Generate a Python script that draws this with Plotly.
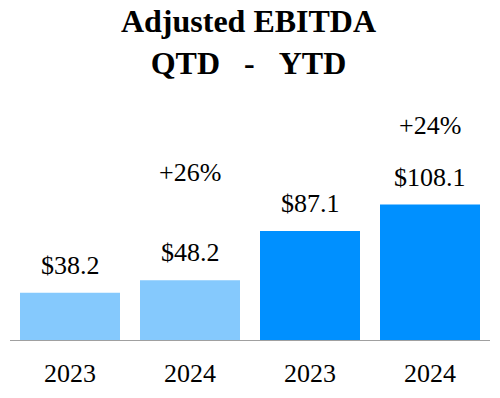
import plotly.graph_objects as go

periods = ["QTD", "QTD", "YTD", "YTD"]
years = ["2023", "2024", "2023", "2024"]
values = [38.2, 48.2, 87.1, 108.1]
value_labels = ["$38.2", "$48.2", "$87.1", "$108.1"]
growth_labels = ["+26%", "+24%"]

colors = {"QTD": "#85C9FD", "YTD": "#0090FF"}
FONT = "Liberation Serif, Times New Roman, serif"

x = list(range(len(values)))

fig = go.Figure()
fig.add_trace(go.Bar(
    x=x, y=values,
    marker=dict(color=[colors[p] for p in periods], line=dict(width=0)),
    hoverinfo="skip",
))

for xi, v, lab in zip(x, values, value_labels):
    fig.add_annotation(x=xi, y=v, xref="x", yref="y", text=lab, showarrow=False,
                       yanchor="middle", yshift=27.5,
                       font=dict(family=FONT, size=26, color="#000000"))

# growth labels above the 2024 bars
growth_pos = [(1, values[1], 108), (3, values[3], 79)]
for (xi, v, sh), lab in zip(growth_pos, growth_labels):
    fig.add_annotation(x=xi, y=v, xref="x", yref="y", text=lab, showarrow=False,
                       yanchor="middle", yshift=sh,
                       font=dict(family=FONT, size=26, color="#000000"))

fig.update_layout(
    width=500, height=398,
    margin=dict(l=10, r=10, t=100, b=57, autoexpand=False),
    paper_bgcolor="white", plot_bgcolor="white",
    bargap=0.1667,
    showlegend=False,
    title=dict(text="Adjusted EBITDA<br>QTD\u00a0\u00a0\u00a0-\u00a0\u00a0\u00a0YTD",
               x=0.497, xanchor="center", y=1 - 32 / 398, yanchor="middle",
               font=dict(family=FONT, size=32, color="#000000", weight="bold")),
    xaxis=dict(range=[-0.5, 3.5], tickmode="array", tickvals=x, ticktext=years,
               showgrid=False, zeroline=False, showline=False, ticks="",
               automargin=False, ticklabelstandoff=14,
               tickfont=dict(family=FONT, size=26, color="#000000")),
    yaxis=dict(range=[0, 191], visible=False, showgrid=False, zeroline=False,
               automargin=False),
)
fig.add_shape(type="line", xref="x", yref="y", x0=-0.5, x1=3.5, y0=0, y1=0,
              line=dict(color="#A0A0A0", width=2))

fig.write_html("out.html", config={"displayModeBar": False},
               post_script="document.body.style.margin='0';document.body.style.overflow='hidden';")
